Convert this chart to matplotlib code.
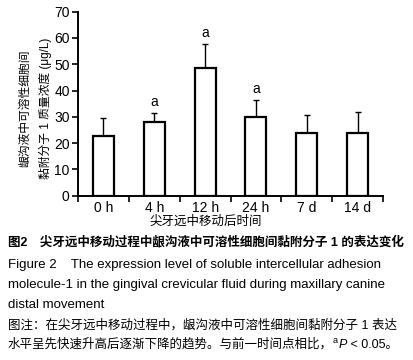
import matplotlib
matplotlib.use("Agg")
import matplotlib.pyplot as plt
import numpy as np

plt.rcParams['font.family'] = ['Liberation Sans', 'Noto Sans CJK SC']

# data
groups = ['0 h', '4 h', '12 h', '24 h', '7 d', '14 d']
means = [22.7, 28.0, 48.5, 30.0, 24.0, 24.0]
sds = [6.8, 3.3, 9.2, 6.3, 6.6, 7.7]
sig = ['', 'a', 'a', 'a', '', '']

y_ticks = [0, 10, 20, 30, 40, 50, 60, 70]
y_label = '龈沟液中可溶性细胞间\n黏附分子 1 质量浓度 (μg/L)'
x_label = '尖牙远中移动后时间'

fig = plt.figure(figsize=(4.14, 3.6), dpi=100)
ax = fig.add_axes([78 / 414, 1 - 195.7 / 360, 305 / 414, 184 / 360])

x = np.arange(len(groups)) + 0.5
ax.bar(x, means, width=0.41, color='white', edgecolor='black', linewidth=1.6, zorder=2)
ax.errorbar(x, means, yerr=[np.zeros(len(sds)), sds], fmt='none', ecolor='black',
            elinewidth=1.0, capsize=2, capthick=1.0, zorder=1)
for xi, m, s, lab in zip(x, means, sds, sig):
    if lab:
        ax.annotate(lab, (xi, m + s), xytext=(0, 3), textcoords='offset points',
                    ha='center', va='bottom', fontsize=10)

ax.set_xlim(0, len(groups))
ax.set_ylim(0, 70)
ax.set_yticks(y_ticks)
ax.set_yticklabels([str(t) for t in y_ticks], fontsize=10)
ax.set_xticks(np.arange(len(groups) + 1))
ax.set_xticklabels([])
ax.set_xticks(x, minor=True)
ax.set_xticklabels(groups, minor=True, fontsize=10)
ax.tick_params(axis='x', which='minor', length=0, pad=4)
ax.tick_params(axis='x', which='major', length=4, width=1.2, direction='out')
ax.tick_params(axis='y', length=4, width=1.2, direction='out', pad=2)
for side in ['top', 'right']:
    ax.spines[side].set_visible(False)
for side in ['left', 'bottom']:
    ax.spines[side].set_linewidth(1.4)

fig.text(36 / 414, 1 - 108 / 360, y_label, rotation=90, ha='center', va='center',
         fontsize=8.5, linespacing=1.7, multialignment='center')
fig.text(206 / 414, 1 - 222 / 360, x_label, ha='center', va='center', fontsize=9)

# caption
cx = 8 / 414
fig.text(cx, 1 - 242 / 360, '图2　尖牙远中移动过程中龈沟液中可溶性细胞间黏附分子 1 的表达变化',
         ha='left', va='center', fontsize=9, fontweight='bold')
fig.text(cx, 1 - 265 / 360, 'Figure 2    The expression level of soluble intercellular adhesion',
         ha='left', va='center', fontsize=9.5)
fig.text(cx, 1 - 285 / 360, 'molecule-1 in the gingival crevicular fluid during maxillary canine',
         ha='left', va='center', fontsize=9.5)
fig.text(cx, 1 - 305 / 360, 'distal movement',
         ha='left', va='center', fontsize=9.5)
fig.text(cx, 1 - 325 / 360, '图注：在尖牙远中移动过程中，龈沟液中可溶性细胞间黏附分子 1 表达',
         ha='left', va='center', fontsize=9)
t1 = fig.text(cx, 1 - 344 / 360, '水平呈先快速升高后逐渐下降的趋势。与前一时间点相比，',
              ha='left', va='baseline', fontsize=9)
t1.set_va('center')
t2 = fig.text(0, 0, 'a', fontsize=6.5)
t3 = fig.text(0, 0, 'P', fontsize=9, style='italic')
t4 = fig.text(0, 0, ' < 0.05。', fontsize=9)

# chain the pieces of the last caption line
fig.canvas.draw()
r = fig.canvas.get_renderer()
bb = t1.get_window_extent(r)
base = bb.y0 + 2.5
t2.set_position((bb.x1 / fig.bbox.width, (base + 5) / fig.bbox.height))
bb2 = t2.get_window_extent(r)
t3.set_position((bb2.x1 / fig.bbox.width + 0.002, base / fig.bbox.height))
bb3 = t3.get_window_extent(r)
t4.set_position((bb3.x1 / fig.bbox.width, base / fig.bbox.height))

fig.savefig('out.png', dpi=100, facecolor='white')
